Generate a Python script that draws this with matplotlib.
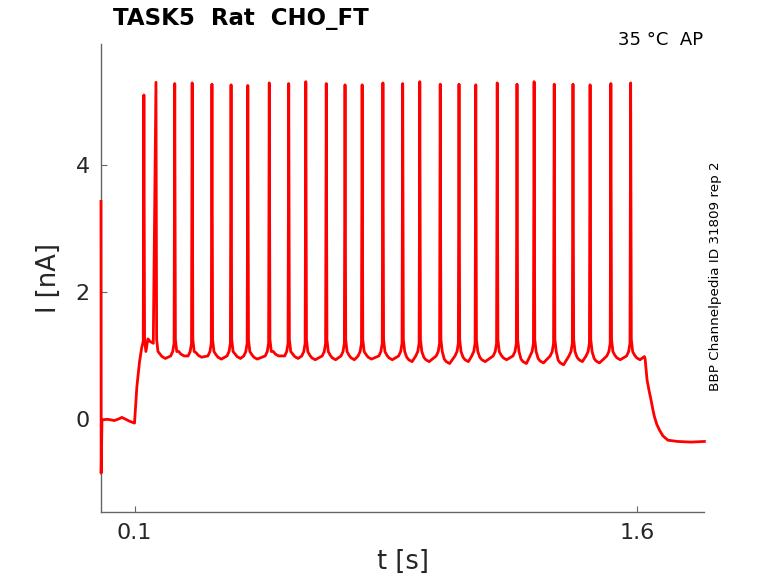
import numpy as np
import matplotlib
matplotlib.use("Agg")
import matplotlib.pyplot as plt

# spike train (time in s, current in nA)
spike_t = [0.128, 0.164, 0.220, 0.272, 0.331, 0.388, 0.438, 0.502, 0.560,
           0.611, 0.672, 0.728, 0.779, 0.841, 0.900, 0.951, 1.012, 1.068,
           1.118, 1.182, 1.241, 1.292, 1.352, 1.408, 1.459, 1.521, 1.580]
spike_peak = [5.11, 5.31, 5.29, 5.30, 5.28, 5.27, 5.26, 5.30, 5.29,
              5.32, 5.29, 5.27, 5.27, 5.30, 5.29, 5.32, 5.28, 5.28,
              5.27, 5.30, 5.28, 5.32, 5.28, 5.28, 5.27, 5.29, 5.30]
trough = [1.19, 0.95, 0.99, 0.97, 0.94, 0.95, 0.94, 0.99, 0.95,
          0.93, 0.93, 0.93, 0.94, 0.93, 0.90, 0.90, 0.87, 0.90,
          0.90, 0.93, 0.87, 0.88, 0.85, 0.90, 0.88, 0.93, 0.93]

# holding period, onset ramp and offset decay
pre_t = [0.0, 0.0005, 0.003, 0.02, 0.04, 0.055, 0.062, 0.07, 0.085, 0.1]
pre_i = [3.43, -0.86, -0.02, -0.01, -0.03, 0.0, 0.02, 0.0, -0.04, -0.07]
rise_t = [0.107, 0.115, 0.1215, 0.126]
rise_i = [0.50, 0.90, 1.12, 1.22]
end_t = [1.621, 1.623, 1.629, 1.635, 1.641, 1.646, 1.651, 1.658, 1.666,
         1.676, 1.691, 1.72, 1.76, 1.80]
end_i = [0.98, 0.95, 0.61, 0.44, 0.29, 0.15, 0.03, -0.09, -0.18,
         -0.27, -0.34, -0.36, -0.37, -0.36]

# shape of one spike cycle (offsets from spike time / levels)
pre_dt = [-0.012, -0.006, -0.002]
pre_lvl = [0.99, 1.06, 1.19]
post_dt = [0.002, 0.006, 0.012, 0.018, 0.028]
post_lvl = [1.25, 1.06]
post_rel = [0.07, 0.03, 0.0]

t = list(pre_t) + rise_t
y = list(pre_i) + rise_i
for k, (ts, pk, tr) in enumerate(zip(spike_t, spike_peak, trough)):
    if k > 1:
        t += [ts + d for d in pre_dt]
        y += pre_lvl
    t += [ts]
    y += [pk]
    t += [ts + d for d in post_dt]
    y += post_lvl + [tr + r for r in post_rel]
t += end_t
y += end_i

fig = plt.figure(figsize=(7.78, 5.83), dpi=100)
ax = fig.add_axes([0.1298, 0.1213, 0.7756, 0.8033])
ax.plot(t, y, color="#ff0000", lw=2.0, zorder=3, clip_on=False)

ax.set_xlim(0, 1.8)
ax.set_ylim(-1.478, 5.915)
ax.set_xticks([0.1, 1.6])
ax.set_xticklabels(["0.1", "1.6"])
ax.set_yticks([0, 2, 4])
for s in ["top", "right"]:
    ax.spines[s].set_visible(False)
for s in ["left", "bottom"]:
    ax.spines[s].set_color("#666666")
    ax.spines[s].set_linewidth(1.0)
ax.tick_params(direction="in", length=4.5, width=0.8, color="#666666",
               labelsize=16, labelcolor="#262626", pad=8)
ax.set_xlabel("t [s]", fontsize=18.5, color="#262626", labelpad=4)
ax.set_ylabel("I [nA]", fontsize=18.5, color="#262626", labelpad=10)

fig.text(113 / 778, 1 - 18 / 583, "TASK5  Rat  CHO_FT", fontsize=16.5,
         fontweight="bold", va="center", ha="left")
fig.text(703 / 778, 1 - 40 / 583, "35 °C  AP", fontsize=13,
         va="center", ha="right")
fig.text(716 / 778, 1 - 276 / 583, "BBP Channelpedia ID 31809 rep 2",
         fontsize=9.7, rotation=90, va="center", ha="center")

fig.savefig("out.png", dpi=100)
